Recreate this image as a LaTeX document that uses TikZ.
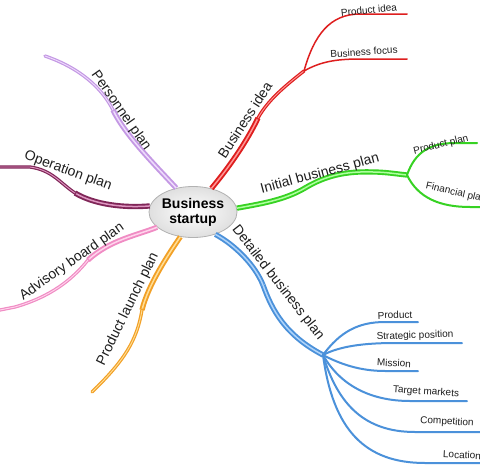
\documentclass[tikz,border=0pt]{standalone}
\usepackage{fontspec}
\setmainfont{Liberation Sans}
\usetikzlibrary{shapes.geometric}
\definecolor{redO}{RGB}{222,30,30}
\definecolor{redI}{RGB}{255,150,150}
\definecolor{greenO}{RGB}{55,210,35}
\definecolor{greenI}{RGB}{175,255,160}
\definecolor{blueO}{RGB}{75,145,218}
\definecolor{blueI}{RGB}{175,212,250}
\definecolor{purpleO}{RGB}{196,152,228}
\definecolor{purpleI}{RGB}{238,220,252}
\definecolor{plumO}{RGB}{128,38,88}
\definecolor{plumI}{RGB}{222,150,192}
\definecolor{pinkO}{RGB}{240,140,196}
\definecolor{pinkI}{RGB}{255,212,236}
\definecolor{orangeO}{RGB}{242,160,38}
\definecolor{orangeI}{RGB}{255,222,150}
\definecolor{txt}{RGB}{30,30,30}
\tikzset{
  trunk/.style={draw=#1O, double=#1I, line width=1.9pt, double distance=1.5pt},
  twig/.style={draw=#1O, double=#1I, line width=1.2pt, double distance=0.9pt, line cap=round},
  leaf/.style={draw=#1O, line width=2pt, line cap=round},
  biglabel/.style={font=\fontsize{14}{16}\selectfont, text=txt, inner sep=0pt},
  smalllabel/.style={font=\fontsize{10}{12}\selectfont, text=txt, inner sep=0pt},
  hub/.style={ellipse, draw=gray!60, line width=0.8pt, inner color=white, outer color=gray!25,
    minimum width=76pt, minimum height=51pt, inner sep=0pt, align=center,
    font=\fontsize{14}{15}\selectfont\bfseries, text=black}
}
\begin{document}
\begin{tikzpicture}[x=1pt,y=1pt]
\clip (0,0) rectangle (480,-469);
\fill[white] (0,0) rectangle (480,-469);

\node[hub] (c) at (193,-212) {Business\\startup};

% Red: Business idea
\coordinate (rM) at (258,-118);
\coordinate (rF) at (304,-71);
\coordinate (rA) at (407,-14);
\coordinate (rB) at (407,-59);
\draw[trunk=red] (c.52) .. controls (235,-160) and (250,-135) .. (rM);
\draw[twig=red] (rM) .. controls (268,-100) and (285,-86) .. (rF);
\draw[leaf=red, line width=1.5pt] (rF) .. controls (314,-35) and (330,-14) .. (360,-14) -- (rA);
\draw[leaf=red, line width=1.5pt] (rF) .. controls (320,-62) and (335,-59) .. (360,-59) -- (rB);
\node[smalllabel, rotate=6] (lPI) at (369,-10) {Product idea};
\node[smalllabel, rotate=4] (lBF) at (364,-52) {Business focus};
\node[biglabel, rotate=57] (lBI) at (245,-120) {Business idea};

% Green: Initial business plan
\coordinate (gM) at (305,-188);
\coordinate (gF) at (407,-175);
\coordinate (gA) at (477,-143);
\coordinate (gB) at (485,-207);
\draw[trunk=green] (c.5) .. controls (260,-204) and (285,-200) .. (gM);
\draw[trunk=green] (gM) .. controls (325,-176) and (345,-171) .. (373,-172) .. controls (385,-172) and (397,-174) .. (gF);
\draw[leaf=green] (gF) .. controls (415,-152) and (430,-143) .. (455,-143) -- (gA);
\draw[leaf=green] (gF) .. controls (418,-198) and (440,-207) .. (470,-207) -- (gB);
\node[biglabel, rotate=15] (lIB) at (320,-174) {Initial business plan};
\node[smalllabel, rotate=14] (lPP) at (441,-145) {Product plan};
\node[smalllabel, rotate=-13] (lFP) at (456,-193) {Financial plan};

% Blue: Detailed business plan
\coordinate (bM) at (263,-285);
\coordinate (bF) at (323,-355);
\coordinate (b1) at (418,-322);
\coordinate (b2) at (462,-343);
\coordinate (b3) at (418,-371);
\coordinate (b4) at (467,-401);
\coordinate (b5) at (485,-432);
\coordinate (b6) at (485,-463);
\draw[trunk=blue] (c.-45) .. controls (235,-245) and (255,-265) .. (bM);
\draw[trunk=blue] (bM) .. controls (272,-310) and (285,-335) .. (bF);
\draw[leaf=blue] (bF) .. controls (340,-332) and (358,-322) .. (385,-322) -- (b1);
\draw[leaf=blue] (bF) .. controls (340,-346) and (365,-343) .. (395,-343) -- (b2);
\draw[leaf=blue] (bF) .. controls (340,-364) and (360,-371) .. (385,-371) -- (b3);
\draw[leaf=blue] (bF) .. controls (340,-385) and (370,-401) .. (410,-401) -- (b4);
\draw[leaf=blue] (bF) .. controls (338,-405) and (365,-432) .. (415,-432) -- (b5);
\draw[leaf=blue] (bF) .. controls (333,-430) and (365,-463) .. (425,-463) -- (b6);
\node[biglabel, rotate=-52] (lDB) at (278,-283) {Detailed business plan};
\node[smalllabel, rotate=2] (lb1) at (395,-315) {Product};
\node[smalllabel, rotate=2] (lb2) at (415,-336) {Strategic position};
\node[smalllabel, rotate=-3] (lb3) at (394,-363) {Mission};
\node[smalllabel, rotate=-4] (lb4) at (426,-392) {Target markets};
\node[smalllabel, rotate=-3] (lb5) at (447,-422) {Competition};
\node[smalllabel, rotate=-3] (lb6) at (462,-455) {Location};

% Purple: Personnel plan
\coordinate (pM) at (113,-110);
\coordinate (pE) at (45,-56);
\draw[trunk=purple] (c.125) .. controls (155,-165) and (125,-135) .. (pM);
\draw[twig=purple] (pM) .. controls (102,-88) and (80,-68) .. (pE);
\node[biglabel, rotate=-55] (lPe) at (121,-111) {Personnel plan};

% Plum: Operation plan
\coordinate (oM) at (75,-193);
\coordinate (oE) at (-5,-167);
\draw[trunk=plum] (c.172) .. controls (125,-208) and (95,-205) .. (oM);
\draw[twig=plum] (oM) .. controls (60,-183) and (52,-170) .. (30,-167) -- (oE);
\node[biglabel, rotate=-20] (lOp) at (68,-171) {Operation plan};

% Pink: Advisory board plan
\coordinate (kM) at (88,-260);
\coordinate (kE) at (-5,-311);
\draw[trunk=pink] (c.203) .. controls (135,-236) and (110,-240) .. (kM);
\draw[twig=pink] (kM) .. controls (72,-280) and (50,-297) .. (15,-307) -- (kE);
\node[biglabel, rotate=35] (lAd) at (72,-262) {Advisory board plan};

% Orange: Product launch plan
\coordinate (yM) at (142,-310);
\coordinate (yE) at (92,-392);
\draw[trunk=orange] (c.243) .. controls (168,-255) and (148,-285) .. (yM);
\draw[twig=orange] (yM) .. controls (137,-340) and (125,-360) .. (yE);
\node[biglabel, rotate=64] (lPL) at (128,-309) {Product launch plan};
\end{tikzpicture}
\end{document}
